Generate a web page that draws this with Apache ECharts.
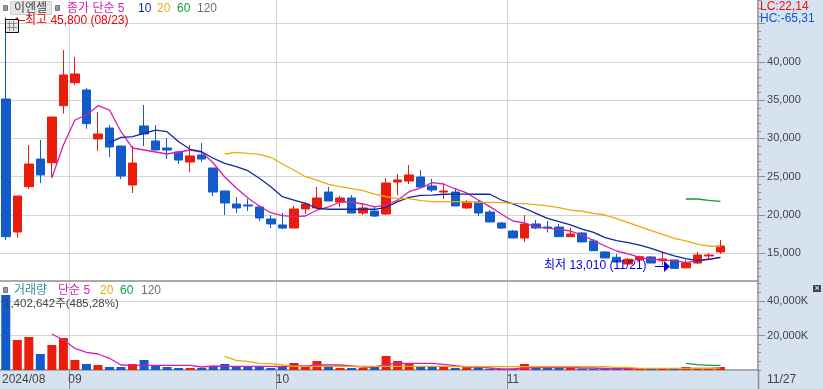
<!DOCTYPE html>
<html><head><meta charset="utf-8">
<style>html,body{margin:0;padding:0;background:#fff}#c{width:823px;height:389px}</style>
<script src="https://cdn.jsdelivr.net/npm/echarts@6/dist/echarts.min.js"></script>
</head><body><div id="c"></div>
<script>
const dates = ['08/23','08/26','08/27','08/28','08/29','08/30',
'09/02','09/03','09/04','09/05','09/06','09/09','09/10','09/11','09/12','09/13','09/19','09/20','09/23','09/24','09/25','09/26','09/27','09/30',
'10/02','10/04','10/07','10/08','10/10','10/11','10/14','10/15','10/16','10/17','10/18','10/21','10/22','10/23','10/24','10/25','10/28','10/29','10/30','10/31',
'11/01','11/04','11/05','11/06','11/07','11/08','11/11','11/12','11/13','11/14','11/15','11/18','11/19','11/20','11/21','11/22','11/25','11/26','11/27'];
const blankSlots = ['+1','+2','+3'];
const opens = [35150,17780,23700,27310,26830,34280,37280,36330,29930,31360,29010,23920,31630,29670,28750,28230,26920,27840,26140,23140,21440,21310,21050,19480,
18700,18300,20790,20920,23000,21700,22220,20260,20520,20130,24310,24440,24960,23790,23000,23000,20920,21700,20390,18960,
17910,17000,18830,18430,18430,17170,17650,16610,15170,14480,13600,14130,14520,14030,14130,13100,13730,14650,15170];
const closes = [17170,22480,26660,25230,32800,38290,38420,31930,30580,28880,25090,26790,30580,28490,28490,27180,27710,27310,23000,21570,20920,21180,19610,18830,
18300,20790,21440,22220,21830,22220,20260,20920,19870,24180,24570,25230,23660,23270,23140,21180,21700,20260,19090,18300,
17000,18830,18300,18300,17170,17520,16480,15340,14390,13860,14220,14560,13730,14260,13030,13730,14780,14780,15950];
const lows = [16740,17040,23400,24180,24870,33230,37020,31270,28360,27580,24700,22880,29010,28490,27310,26660,25620,26920,22480,20000,20260,20520,19220,18300,
18170,18300,20130,20920,21830,21050,20260,20000,19740,20000,22610,24050,23660,23000,22090,21180,20790,19870,19090,18170,
17000,16480,18170,17720,17170,17170,16480,15340,14390,13860,13600,13860,13730,13470,13010,13100,13600,14260,14910];
const highs = [45800,22480,29140,29800,32800,41550,40640,36590,33450,31750,29010,29010,34370,31750,30060,28230,29140,29400,26140,23140,22350,22090,21310,20000,
20260,21180,21700,23660,23660,22480,22610,21570,21050,24830,25360,26530,25880,24700,24050,23530,21960,21960,20650,19090,
18040,20000,19350,19220,18830,18300,17780,16870,15300,14910,14390,14690,14650,15300,14130,14130,15170,15040,16740];
const ma5Start = 4;
const ma5 = [24870,29140,32410,33060,34280,33710,30880,28750,28490,28230,27970,28230,28490,28230,26790,24960,23530,22220,21180,20300,
19910,19780,19870,20650,21050,21700,21700,21440,21050,21310,21960,23050,23530,24220,24050,23400,22880,21960,21090,20130,
19220,18960,18430,18300,18130,17910,17390,16650,15950,15300,14910,14480,14220,14130,14030,13770,14030,14220,14480];
const ma10Start = 9;
const ma10 = [29440,30150,30230,30670,31100,30880,29570,28580,28270,27410,26750,26310,25790,24800,23700,
22390,21960,21530,20880,20750,20750,20750,20750,20750,21010,21740,22310,22570,22610,22710,22740,22740,22710,22710,21960,
21440,20880,20220,19570,19130,18700,18170,17740,17040,16650,16380,16080,15650,15130,14650,14290,14030,14220,14480];
const ma20Start = 19;
const ma20 = [27970,28190,28060,27930,27540,26660,25880,25000,24570,24010,23700,23440,23180,22740,22390,22130,22130,21870,21740,21740,21740,21700,21660,21660,21610,
21530,21480,21350,21180,20960,20650,20490,20220,20000,19520,19000,18470,17950,17480,16960,16610,16210,15950,15860];
const ma60Start = 59;
const ma60 = [22090,22090,21920,21790];
const volumes = [43500,17400,19140,9280,14500,18560,5800,3480,2900,1740,1740,3480,5800,2320,1740,1160,1160,1160,2320,3480,2320,2320,2320,1160,
1900,4060,1900,5220,1740,1160,1160,1160,1740,8120,5220,4060,1740,1740,1740,1160,1740,1740,580,580,
580,3480,1740,1160,1160,1740,750,750,750,750,750,580,580,750,580,1740,1160,750,1740];
const volMa5 = [20880,17400,12590,10270,9280,6790,2900,2730,2730,2730,2730,2730,2730,1740,2320,2150,2150,2150,2150,2150,
1910,2320,2320,2900,2900,2900,2320,1740,1740,3300,3770,3890,3890,3890,3300,2490,1740,1740,1160,580,
580,1160,1330,1450,1450,1450,1160,1160,870,870,750,750,750,750,750,870,990,990,1160];
const volMa20 = [7950,5630,5050,3890,3650,2900,2150,2150,2150,2150,2150,2150,2150,2150,2150,2150,2150,2150,2150,2150,
1910,1910,1910,1910,1910,1910,1910,1910,1910,1910,1910,1910,1910,1910,1570,1570,990,990,990,990,990,990,990,1160];
const volMa60 = [3890,3070,2730,2730];
const priceTicks = [15000,20000,25000,30000,35000,40000,45000];
const priceLabels = [15000,20000,25000,30000,35000,40000];
const priceMinor = [12000,13000,14000,16000,17000,18000,19000,21000,22000,23000,24000,26000,27000,28000,29000,31000,32000,33000,34000,36000,37000,38000,39000,41000,42000,43000,44000,46000,47000,48000];
const volTicks = [20000,40000];
const volMinor = [0,5000,10000,15000,25000,30000,35000,45000,50000];
const monthStarts = {'09/02':'09','10/02':'10','11/01':'11'};

const FONT = '"Liberation Sans","Noto Sans CJK KR",sans-serif';
const RED='#ea1c0c', BLUE='#115bcb', MAG='#d81cb4', NAVY='#0e2a9e', ORG='#eeaa0a', GRN='#129a3c', GRAY='#707070', INK='#444444';
const PANEL='#d6e2f0', LINE='#d4d4d4', EDGE='#8e8e8e';
const slots = dates.concat(blankSlots);
const pad = (start, arr) => new Array(start).fill(null).concat(arr);
const isStart = (i) => monthStarts[slots[i]] !== undefined;

function xAxis(grid, labels){
  return {type:'category', gridIndex:grid, data:slots, boundaryGap:true, z:0,
    axisLine:{show:true,lineStyle:{color:EDGE,width:1.5}},
    axisTick:{show:!!labels,length:19,interval:(i)=>isStart(i),lineStyle:{color:EDGE}},
    axisLabel:{show:!!labels,interval:(i)=>isStart(i),formatter:(v)=>monthStarts[v]||'',color:INK,fontSize:12,fontFamily:FONT,margin:4},
    splitLine:{show:true,interval:(i)=>isStart(i),lineStyle:{color:LINE,width:1}}};
}
function yAxes(grid,min,max,major,minor,fmt,labelled){
  const base={type:'value',gridIndex:grid,position:'right',offset:-2.6,min,max,scale:true};
  return [
    {...base,z:0,axisLine:{show:false},axisTick:{show:false,customValues:major},axisLabel:{show:false,customValues:major},splitLine:{show:true,lineStyle:{color:LINE,width:1}}},
    {...base,z:5,axisLine:{show:true,lineStyle:{color:EDGE,width:1.5}},axisTick:{show:true,length:3,customValues:minor,lineStyle:{color:EDGE}},axisLabel:{show:false,customValues:minor},splitLine:{show:false}},
    {...base,z:5,axisLine:{show:false},axisTick:{show:true,length:7,customValues:major,lineStyle:{color:EDGE}},
      axisLabel:{show:true,customValues:labelled,formatter:fmt,color:INK,fontSize:11,fontFamily:FONT,margin:9,showMinLabel:true,showMaxLabel:true},splitLine:{show:false}}
  ];
}
const line=(name,x,y,data,color)=>({name,type:'line',xAxisIndex:x,yAxisIndex:y,data,showSymbol:false,symbol:'none',silent:true,
  lineStyle:{color,width:1.3},itemStyle:{color},z:3,animation:false,connectNulls:false});
const txt=(x,y,text,fill,opts={})=>({type:'text',x,y,z:20,silent:true,style:Object.assign({text,fill,font:'12px '+FONT,verticalAlign:'middle'},opts)});
const box=(x,y,w,h,fill,stroke)=>({type:'rect',z:20,silent:true,shape:{x,y,width:w,height:h},style:{fill,stroke:stroke||null,lineWidth:stroke?1:0}});
const seg=(x1,y1,x2,y2,stroke,w=1)=>({type:'line',z:20,silent:true,shape:{x1,y1,x2,y2},style:{stroke,lineWidth:w}});

const candle = dates.map((d,i)=>[opens[i],closes[i],lows[i],highs[i]]);
const volData = volumes.map((v,i)=>({value:v,itemStyle:{color:closes[i]>=opens[i]?RED:BLUE}}));

const chart = echarts.init(document.getElementById('c'),null,{renderer:'canvas'});
chart.setOption({
  animation:false, backgroundColor:'#fff',
  grid:[{left:-0.3,top:0,width:761,height:281,containLabel:false},{left:-0.3,top:282,width:761,height:88,containLabel:false}],
  xAxis:[xAxis(0,false),xAxis(1,true)],
  yAxis:[...yAxes(0,11382,48081,priceTicks,priceMinor,(v)=>v.toLocaleString('en-US'),priceLabels),
         ...yAxes(1,0,51014,volTicks,volMinor,(v)=>v.toLocaleString('en-US')+'K',volTicks)],
  series:[
    {type:'candlestick',xAxisIndex:0,yAxisIndex:0,data:candle,barWidth:9,z:2,silent:true,
      itemStyle:{color:RED,color0:BLUE,borderColor:RED,borderColor0:BLUE,borderWidth:1}},
    line('MA5',0,0,pad(ma5Start,ma5),MAG),
    line('MA10',0,0,pad(ma10Start,ma10),NAVY),
    line('MA20',0,0,pad(ma20Start,ma20),ORG),
    line('MA60',0,0,pad(ma60Start,ma60),GRN),
    {type:'bar',xAxisIndex:1,yAxisIndex:3,data:volData,barWidth:9,z:2,silent:true},
    line('VMA5',1,3,pad(ma5Start,volMa5),MAG),
    line('VMA20',1,3,pad(19,volMa20),ORG),
    line('VMA60',1,3,pad(ma60Start,volMa60),GRN)
  ],
  graphic:{elements:[
    {type:'rect',z:1,silent:true,shape:{x:758.5,y:0,width:65,height:389},style:{fill:PANEL}},
    {type:'rect',z:-1,silent:true,shape:{x:0,y:371,width:758.5,height:18},style:{fill:PANEL}},
    // top legend
    box(3.5,5.5,4,5,'#999','#777'),
    box(10.5,1.5,41,13,'#e6e6e6','#cfcfcf'),
    txt(14,8.5,'이엔셀',INK),
    box(55.5,5.5,4,5,'#999','#777'),
    txt(67,8.5,'종가 단순 5',MAG),
    txt(138,8.5,'10',NAVY), txt(157,8.5,'20',ORG), txt(177,8.5,'60',GRN), txt(197,8.5,'120',GRAY),
    // high marker
    seg(17,20.5,25,20.5,'#f00000'),
    {type:'polygon',z:20,silent:true,shape:{points:[[13,20],[18,17],[18,23]]},style:{fill:'#f00000'}},
    txt(25,20.5,'최고 45,800 (08/23)','#f00000'),
    box(5.5,19.5,13,13,'#e8e8e8','#111111'),
    seg(7,23.5,17,23.5,'#888'),seg(7,27.5,17,27.5,'#888'),seg(9.5,21,9.5,31,'#888'),seg(13.5,21,13.5,31,'#888'),
    // low marker
    txt(544,265.5,'최저 13,010 (11/21)','#0000e0'),
    seg(655,266.5,665,266.5,'#0000e0'),
    {type:'polygon',z:20,silent:true,shape:{points:[[664,261],[670,266.5],[664,272]]},style:{fill:'#0000e0'}},
    // right readouts
    txt(760,6.5,'LC:22,14','#ee1111'),
    txt(760,19,'HC:-65,31','#1155cc'),
    // volume legend
    box(3.5,287.5,4,5,'#999','#777'),
    txt(14,290.5,'거래량','#2f9090'),
    txt(58,290.5,'단순 5',MAG),
    txt(100,290.5,'20',ORG), txt(120,290.5,'60',GRN), txt(141,290.5,'120',GRAY),
    txt(4,303.5,'1,402,642주(485,28%)',INK,{font:'11.5px '+FONT}),
    box(813,285,8,7,'#444444'),
    txt(814.5,288.5,'×','#ffffff',{font:'9px '+FONT}),
    // date labels
    txt(2,380,'2024/08',INK),
    txt(767,380,'11/27',INK),
    seg(758.5,371,758.5,389,EDGE,1.5)
  ]}
});
</script></body></html>
